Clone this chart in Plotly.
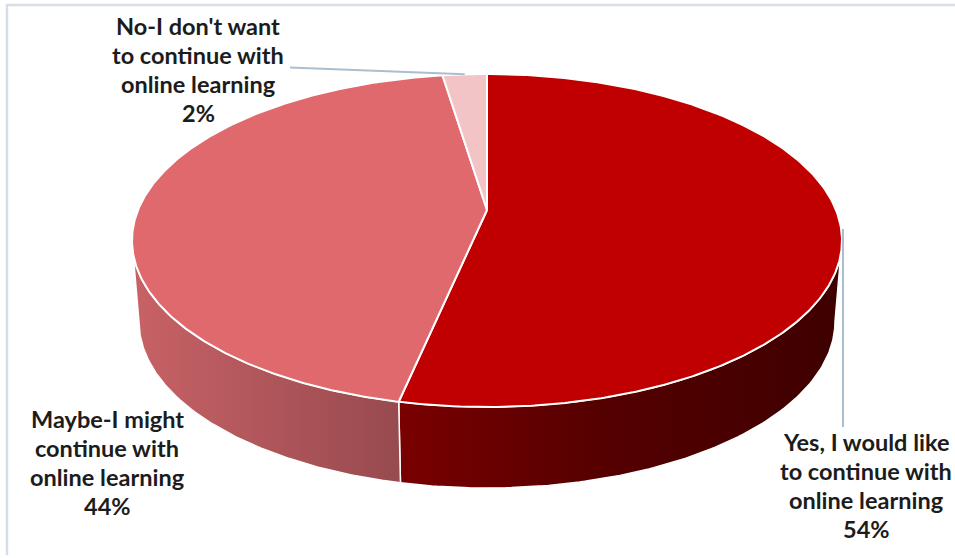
import numpy as np
import plotly.graph_objects as go

# ---- data -------------------------------------------------------------
categories = [
    "Yes, I would like to continue with online learning",
    "Maybe-I might continue with online learning",
    "No-I don't want to continue with online learning",
]
label_lines = [
    ["Yes, I would like", "to continue with", "online learning"],
    ["Maybe-I might", "continue with", "online learning"],
    ["No-I don't want", "to continue with", "online learning"],
]
shares = [54, 44, 2]  # percent

# ---- styling ----------------------------------------------------------
top_colors = ["#C00000", "#E0696D", "#F2C4C6"]
side_scales = [
    [[0, "#7A0000"], [0.45, "#560000"], [1, "#3E0000"]],
    [[0, "#C86266"], [1, "#974A4F"]],
    [[0, "#E8B2B4"], [1, "#D49C9E"]],
]
label_pos = [(866, 485.5), (107, 462), (198, 69)]
line_step = 29.0
leader_color = "#A9BED0"
text_color = "#1C1C1C"

W, H = 955, 558
CX, CY = 487.0, 240.5        # centre of the rim ellipse
RX, RY = 355.0, 166.5        # rim radii of the top face
HUB_Y = 210.0                # where the wedges meet
DEPTH = 81.0                 # thickness of the disc
RX_BOTTOM = 348.0            # slightly narrower lower rim


def rim(theta_deg, rx=RX, cy=CY):
    t = np.radians(theta_deg)
    return CX + rx * np.sin(t), cy - RY * np.cos(t)


fig = go.Figure()

# cumulative angles, clockwise from 12 o'clock
fractions = np.array(shares, dtype=float) / np.sum(shares)
ends = np.cumsum(fractions) * 360.0
starts = np.concatenate([[0.0], ends[:-1]])

# ---- side walls (only the front half is visible) ----------------------
for i in range(len(shares)):
    lo, hi = max(starts[i], 90.0), min(ends[i], 270.0)
    if hi <= lo:
        continue
    th = np.linspace(lo, hi, 120)
    tx, ty = rim(th)
    bx, by = rim(th[::-1], rx=RX_BOTTOM, cy=CY + DEPTH)
    xs = np.concatenate([tx, bx, tx[:1]])
    ys = np.concatenate([ty, by, ty[:1]])
    fig.add_trace(go.Scatter(
        x=xs, y=ys, mode="lines", fill="toself",
        line=dict(color="white", width=1.5),
        fillgradient=dict(type="horizontal", colorscale=side_scales[i],
                          start=float(xs.min()), stop=float(xs.max())),
        hoverinfo="skip", showlegend=False,
    ))

# ---- top faces --------------------------------------------------------
for i in range(len(shares)):
    th = np.linspace(starts[i], ends[i], max(int((ends[i] - starts[i]) * 2), 8))
    rx_, ry_ = rim(th)
    xs = np.concatenate([[CX], rx_, [CX]])
    ys = np.concatenate([[HUB_Y], ry_, [HUB_Y]])
    fig.add_trace(go.Scatter(
        x=xs, y=ys, mode="lines", fill="toself",
        fillcolor=top_colors[i], line=dict(color="white", width=2),
        name=categories[i], hoverinfo="name", showlegend=False,
    ))

# ---- leader lines -----------------------------------------------------
mid_no = (starts[2] + ends[2]) / 2
nx, ny = rim(mid_no)
fig.add_trace(go.Scatter(x=[290, nx], y=[67.5, ny], mode="lines",
                         line=dict(color=leader_color, width=2),
                         hoverinfo="skip", showlegend=False))
fig.add_trace(go.Scatter(x=[CX + RX + 1, CX + RX + 1], y=[229, 427], mode="lines",
                         line=dict(color=leader_color, width=2),
                         hoverinfo="skip", showlegend=False))

# ---- data labels (one annotation per line for tight spacing) ----------
for i in range(len(shares)):
    lines = label_lines[i] + [f"{shares[i]}%"]
    n = len(lines)
    for k, line in enumerate(lines):
        fig.add_annotation(
            x=label_pos[i][0], y=label_pos[i][1] + (k - (n - 1) / 2) * line_step,
            xref="x", yref="y", text=line, showarrow=False,
            xanchor="center", yanchor="middle",
            font=dict(family="Lato", size=23.5, color=text_color, weight="bold"),
        )

# ---- chart frame ------------------------------------------------------
frame = "#D6DEE7"
fig.add_shape(type="line", xref="paper", yref="paper", x0=0.006, x1=1, y0=0.991, y1=0.991,
              line=dict(color=frame, width=2.5))
fig.add_shape(type="line", xref="paper", yref="paper", x0=0.0073, x1=0.0073, y0=0.005, y1=0.991,
              line=dict(color=frame, width=2.5))

fig.update_layout(
    width=W, height=H, autosize=False,
    margin=dict(l=0, r=0, t=0, b=0),
    paper_bgcolor="white", plot_bgcolor="white",
    xaxis=dict(range=[0, W], visible=False, fixedrange=True),
    yaxis=dict(range=[H, 0], visible=False, fixedrange=True),
)

fig.write_html("out.html")
